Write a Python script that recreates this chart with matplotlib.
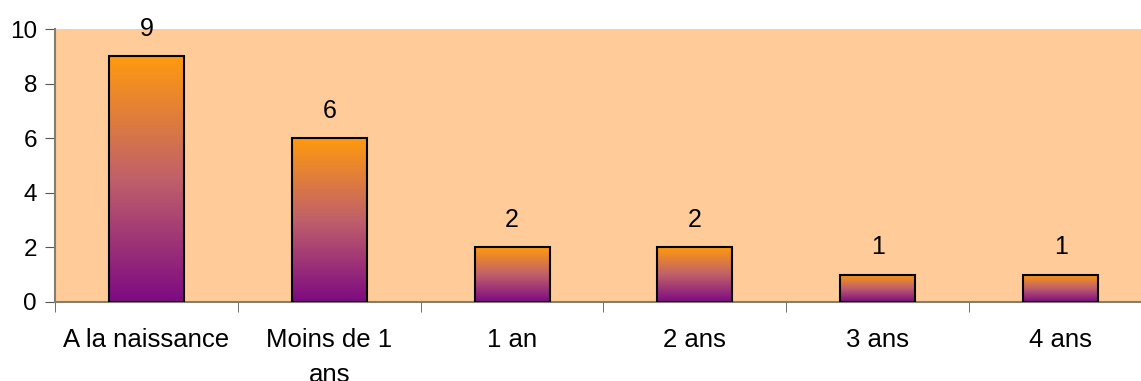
import matplotlib.pyplot as plt
import numpy as np
from matplotlib.colors import LinearSegmentedColormap

# donnees
categories = ["A la naissance", "Moins de 1\nans", "1 an", "2 ans", "3 ans", "4 ans"]
valeurs = [9, 6, 2, 2, 1, 1]

plt.rcParams['font.family'] = ['Liberation Sans', 'DejaVu Sans']

fig = plt.figure(figsize=(11.41, 3.81), dpi=100)
ax = fig.add_axes([55/1141, 1-302/381, (1152-55)/1141, (302-29)/381])
ax.set_facecolor('#FFCC99')

cmap = LinearSegmentedColormap.from_list('grad', ['#7D0A82', '#C0606A', '#FF9A0E'])
grad = np.linspace(0, 1, 256).reshape(-1, 1)

x = np.arange(len(categories))
largeur = 0.41
bars = ax.bar(x, valeurs, width=largeur, facecolor='none', edgecolor='black', linewidth=1.5, zorder=3)
for b, v in zip(bars, valeurs):
    x0 = b.get_x()
    ax.imshow(grad, cmap=cmap, origin='lower', aspect='auto',
              extent=(x0, x0 + b.get_width(), 0, v), zorder=2)
    ax.annotate(str(v), (b.get_x() + b.get_width()/2, v), xytext=(0, 11),
                textcoords='offset points', ha='center', va='bottom', fontsize=18)

ax.set_xlim(-0.5, len(categories) - 0.5)
ax.set_ylim(0, 10)
ax.set_yticks(range(0, 11, 2))
ax.set_xticks(x)
ax.set_xticklabels(categories, fontsize=18.5, linespacing=1.55)
ax.tick_params(axis='x', length=0, pad=19)
ax.set_xticks(np.arange(-0.5, len(categories), 1), minor=True)
ax.tick_params(axis='x', which='minor', length=7, color='#555555', direction='out')
ax.tick_params(axis='y', labelsize=17.5, length=7, color='#555555', pad=6)

for s in ['top', 'right']:
    ax.spines[s].set_visible(False)
for s in ['left', 'bottom']:
    ax.spines[s].set_color('#808070')
    ax.spines[s].set_linewidth(1.5)

fig.savefig('out.png', dpi=100)
